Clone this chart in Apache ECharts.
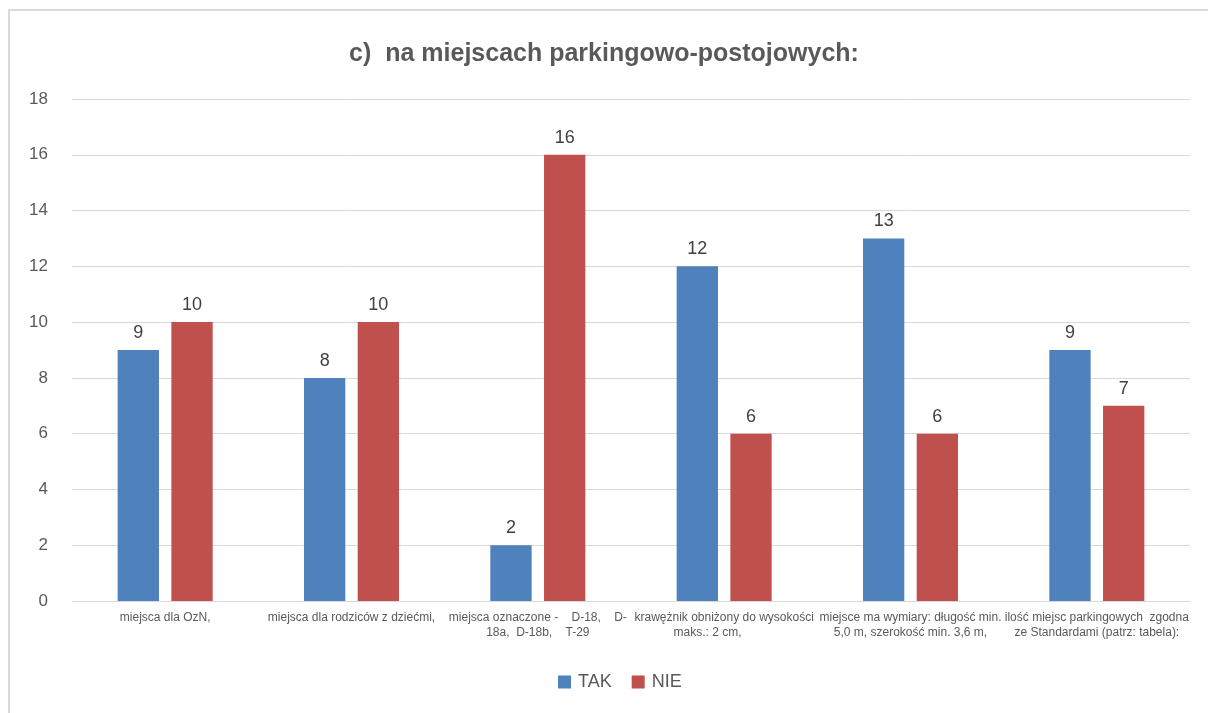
<!DOCTYPE html>
<html><head><meta charset="utf-8">
<script src="https://cdn.jsdelivr.net/npm/echarts@6/dist/echarts.min.js"></script>
<style>html,body{margin:0;padding:0;background:#fff}#c{width:1208px;height:713px}</style>
</head><body><div id="c"></div>
<script>
const title = 'c)  na miejscach parkingowo-postojowych:';
const categories = [
  'miejsca dla OzN,',
  'miejsca dla rodziców z dziećmi,',
  'miejsca oznaczone -    D-18,    D-\n18a,  D-18b,    T-29',
  'krawężnik obniżony do wysokości\nmaks.: 2 cm,          ',
  'miejsce ma wymiary: długość min.\n5,0 m, szerokość min. 3,6 m,',
  'ilość miejsc parkingowych  zgodna\nze Standardami (patrz: tabela):'
];
const seriesNames = ['TAK', 'NIE'];
const takValues = [9, 8, 2, 12, 13, 9];
const nieValues = [10, 10, 16, 6, 6, 7];
const yTicks = {min: 0, max: 18, interval: 2};

const font = '"Liberation Sans", "Noto Sans", sans-serif';
const chart = echarts.init(document.getElementById('c'));
const labelStyle = {show: true, position: 'top', color: '#404040', fontSize: 18, fontFamily: font, distance: 8};
chart.setOption({
  animation: false,
  title: {text: title, left: 'center', top: 37, textStyle: {color: '#595959', fontSize: 25, fontWeight: 'bold', fontFamily: font}},
  graphic: [{type: 'rect', shape: {x: 9, y: 10, width: 1220, height: 730}, style: {fill: 'none', stroke: '#d9d9d9', lineWidth: 2}, silent: true}],
  legend: {bottom: 17, left: 553, itemWidth: 13, itemHeight: 13, itemGap: 20, icon: 'rect',
    textStyle: {color: '#595959', fontSize: 18, fontFamily: font, padding: [0, 0, 0, 2]}, data: seriesNames},
  grid: {left: 72, right: 18, top: 99, bottom: 112, containLabel: false},
  xAxis: {type: 'category', data: categories,
    axisLine: {lineStyle: {color: '#d9d9d9'}}, axisTick: {show: false},
    axisLabel: {interval: 0, color: '#595959', fontSize: 12, fontFamily: font, lineHeight: 15, margin: 9, hideOverlap: false, align: 'center'}},
  yAxis: {type: 'value', min: yTicks.min, max: yTicks.max, interval: yTicks.interval,
    axisLine: {show: false}, axisTick: {show: false},
    axisLabel: {color: '#595959', fontSize: 17, fontFamily: font, margin: 24},
    splitLine: {lineStyle: {color: '#d9d9d9', width: 1}}},
  series: [
    {name: seriesNames[0], type: 'bar', data: takValues, itemStyle: {color: '#4f81bd'}, barGap: '30%', barCategoryGap: '49%', label: labelStyle},
    {name: seriesNames[1], type: 'bar', data: nieValues, itemStyle: {color: '#c0504d'}, label: labelStyle}
  ]
});
</script></body></html>
